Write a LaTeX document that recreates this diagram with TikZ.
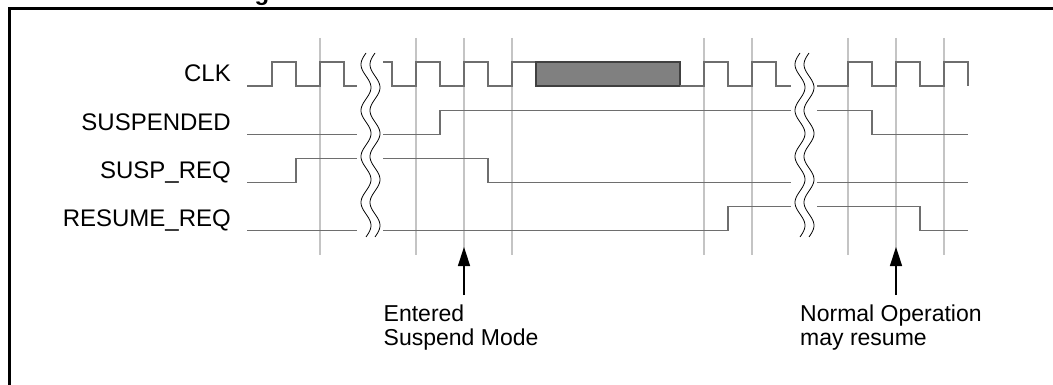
\documentclass[tikz,border=0pt]{standalone}
\usepackage{fontspec}
\setmainfont{Liberation Sans}
\usetikzlibrary{arrows.meta}
\definecolor{sigcol}{HTML}{6E6E6E}
\definecolor{gridcol}{HTML}{C4C4C4}
\definecolor{boxcol}{HTML}{808080}
\tikzset{
  sig/.style={draw=sigcol, line width=1.5pt, line join=miter},
  gridline/.style={draw=gridcol, line width=1.5pt},
  wave/.style={draw=black, line width=0.8pt},
  lbl/.style={anchor=base east, inner sep=0pt, font=\fontsize{24}{24}\selectfont},
  note/.style={anchor=base west, inner sep=0pt, align=left, font=\fontsize{23}{23.3}\selectfont},
  pointer/.style={draw=black, line width=1.5pt, -{Triangle[length=19pt,width=12pt]}},
  frame/.style={draw=black, line width=3pt}
}
\begin{document}
\begin{tikzpicture}[x=1pt,y=-1pt]
\useasboundingbox (0,0) rectangle (1053,385);
% frame and title fragment
\draw[frame] (1053,8.5) -- (9,8.5) -- (9,390);
\node[anchor=base, inner sep=0pt, font=\fontsize{24}{24}\selectfont\bfseries] (title) at (262,1) {g};
% grid lines
\foreach \gx in {320,416,464,512,704,752,848,896,944}
  \draw[gridline] (\gx,38) -- (\gx,255);
% labels
\node[lbl] (lclk) at (231,82) {CLK};
\node[lbl] (lsusp) at (231,130.5) {SUSPENDED};
\node[lbl] (lsreq) at (231,178.5) {SUSP\_REQ};
\node[lbl] (lrreq) at (231,226.5) {RESUME\_REQ};
% CLK
\draw[sig] (247,86) -- (272,86) -- (272,62) -- (296,62) -- (296,86) -- (320,86) -- (320,62) -- (344,62) -- (344,86) -- (357,86);
\draw[sig] (383,62) -- (392,62) -- (392,86) -- (416,86) -- (416,62) -- (440,62) -- (440,86) -- (464,86) -- (464,62) -- (488,62) -- (488,86) -- (512,86) -- (512,62) -- (536,62);
\draw[sig, fill=boxcol, draw=black!75] (536,62) rectangle (680,86);
\draw[sig] (680,86) -- (704,86) -- (704,62) -- (728,62) -- (728,86) -- (752,86) -- (752,62) -- (776,62) -- (776,86) -- (791,86);
\draw[sig] (817,86) -- (848,86) -- (848,62) -- (872,62) -- (872,86) -- (896,86) -- (896,62) -- (920,62) -- (920,86) -- (944,86) -- (944,62) -- (968,62) -- (968,86);
% SUSPENDED
\draw[sig] (247,134.5) -- (357,134.5);
\draw[sig] (383,134.5) -- (440,134.5) -- (440,110.5) -- (791,110.5);
\draw[sig] (817,110.5) -- (872,110.5) -- (872,134.5) -- (968,134.5);
% SUSP_REQ
\draw[sig] (247,182.5) -- (296,182.5) -- (296,158.5) -- (357,158.5);
\draw[sig] (383,158.5) -- (488,158.5) -- (488,182.5) -- (791,182.5);
\draw[sig] (817,182.5) -- (968,182.5);
% RESUME_REQ
\draw[sig] (247,230.5) -- (357,230.5);
\draw[sig] (383,230.5) -- (728,230.5) -- (728,206.5) -- (791,206.5);
\draw[sig] (817,206.5) -- (920,206.5) -- (920,230.5) -- (968,230.5);
% break marks
\foreach \cx in {366,375,800,809}
  \draw[wave] plot[domain=53:237, samples=120, smooth] ({\cx-5*sin((\x-53)*7.8261)}, \x);
% annotations
\coordinate (tipA) at (464,247);
\coordinate (tipB) at (896,247);
\node[note] (entered) at (383.5,345) {Entered\\Suspend Mode};
\node[note] (normal) at (800,345) {Normal Operation\\may resume};
\draw[pointer] (464,295) -- (tipA);
\draw[pointer] (896,295) -- (tipB);
\end{tikzpicture}
\end{document}
